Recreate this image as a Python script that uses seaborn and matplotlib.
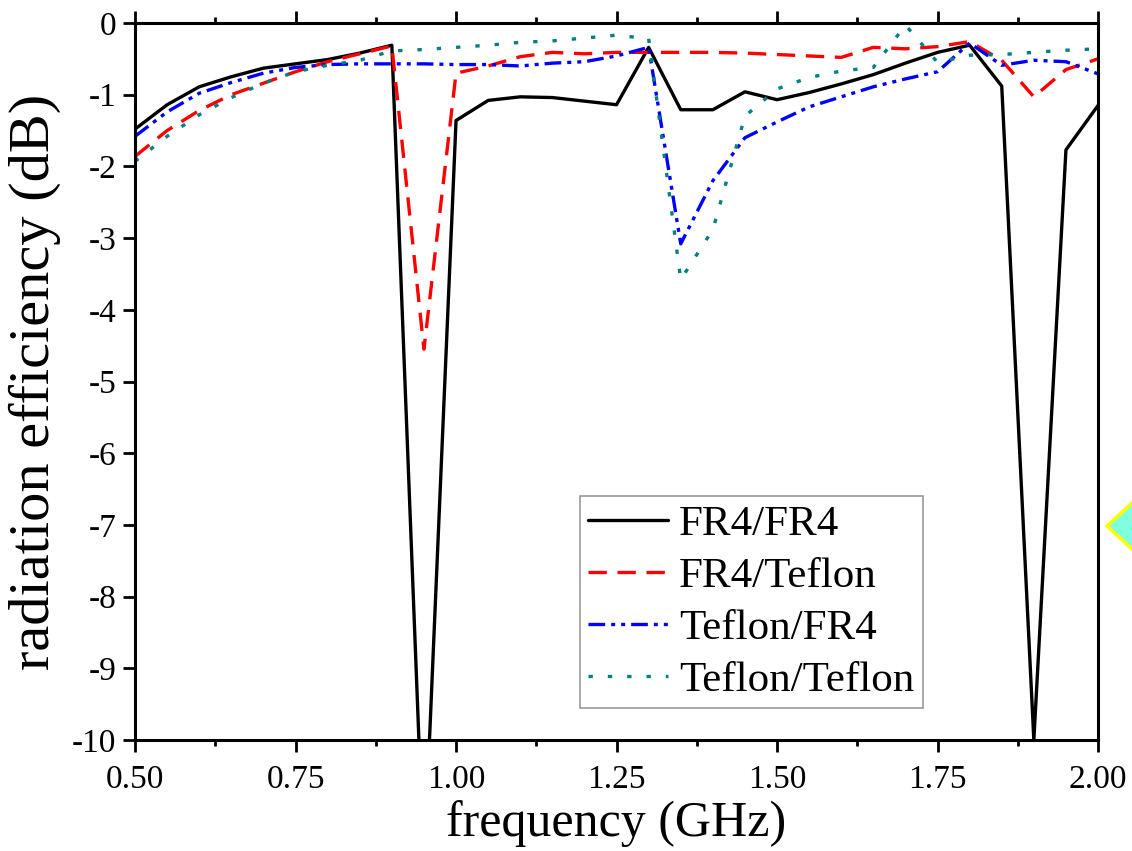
import matplotlib
matplotlib.use("Agg")
import matplotlib.pyplot as plt
from matplotlib.patches import Polygon
from matplotlib.ticker import MultipleLocator, FormatStrFormatter
import seaborn as sns
import pandas as pd

freq = [0.50, 0.55, 0.60, 0.65, 0.70, 0.75, 0.80, 0.85, 0.90, 0.95,
        1.00, 1.05, 1.10, 1.15, 1.20, 1.25, 1.30, 1.35, 1.40, 1.45,
        1.50, 1.55, 1.60, 1.65, 1.70, 1.75, 1.80, 1.85, 1.90, 1.95, 2.00]

fr4_fr4 = [-1.48, -1.14, -0.89, -0.75, -0.63, -0.57, -0.51, -0.42, -0.31, -11.8,
           -1.36, -1.08, -1.03, -1.04, -1.09, -1.14, -0.34, -1.21, -1.21, -0.96,
           -1.07, -0.97, -0.85, -0.72, -0.56, -0.41, -0.31, -0.88, -10.0, -1.77, -1.15]

fr4_teflon = [-1.86, -1.50, -1.22, -1.00, -0.84, -0.68, -0.54, -0.43, -0.32, -4.55,
              -0.70, -0.60, -0.47, -0.41, -0.43, -0.41, -0.41, -0.41, -0.41, -0.42,
              -0.44, -0.46, -0.48, -0.34, -0.36, -0.33, -0.26, -0.52, -1.03, -0.65, -0.50]

teflon_fr4 = [-1.58, -1.24, -0.98, -0.83, -0.70, -0.62, -0.58, -0.57, -0.57, -0.57,
              -0.58, -0.58, -0.60, -0.56, -0.54, -0.46, -0.34, -3.08, -2.20, -1.60,
              -1.38, -1.17, -1.03, -0.89, -0.78, -0.68, -0.28, -0.59, -0.52, -0.54, -0.71]

teflon_teflon = [-1.93, -1.58, -1.28, -1.04, -0.84, -0.68, -0.59, -0.52, -0.39, -0.37,
                 -0.34, -0.31, -0.27, -0.25, -0.21, -0.17, -0.22, -3.58, -2.88, -1.30,
                 -0.92, -0.76, -0.67, -0.62, -0.03, -0.55, -0.45, -0.44, -0.41, -0.38, -0.36]

labels = ["FR4/FR4", "FR4/Teflon", "Teflon/FR4", "Teflon/Teflon"]
series = [fr4_fr4, fr4_teflon, teflon_fr4, teflon_teflon]
colors = ["#000000", "#FF0000", "#0000FF", "#008080"]
dash_styles = [None, (5.5, 3.2), (5.0, 1.8, 1.2, 1.8, 1.2, 1.8), (1.3, 4.5)]

sns.set_theme(style="white")
plt.rcParams["font.family"] = ["Liberation Serif", "DejaVu Serif"]
plt.rcParams["axes.unicode_minus"] = False
plt.rcParams["text.color"] = "black"
plt.rcParams["axes.labelcolor"] = "black"
plt.rcParams["xtick.color"] = "black"
plt.rcParams["ytick.color"] = "black"

fig = plt.figure(figsize=(11.32, 8.51), dpi=100)
ax = fig.add_axes([0.1193, 0.1304, 0.8507, 0.8426])

for lab, vals, col, dsh in zip(labels, series, colors, dash_styles):
    df = pd.DataFrame({"freq": freq, "eff": vals})
    sns.lineplot(data=df, x="freq", y="eff", ax=ax, color=col, label=lab,
                 linewidth=2.4, sort=False)
    line = ax.lines[-1]
    if dsh is not None:
        line.set_dashes(dsh)
    line.set_dash_capstyle("butt")

ax.set_xlim(0.5, 2.0)
ax.set_ylim(-10, 0)
ax.xaxis.set_major_locator(MultipleLocator(0.25))
ax.xaxis.set_minor_locator(MultipleLocator(0.125))
ax.xaxis.set_major_formatter(FormatStrFormatter("%.2f"))
ax.yaxis.set_major_locator(MultipleLocator(1))
ax.yaxis.set_major_formatter(FormatStrFormatter("%d"))

for sp in ax.spines.values():
    sp.set_visible(True)
    sp.set_color("black")
    sp.set_linewidth(2.2)

ax.tick_params(axis="both", which="major", direction="out", length=8.5, width=2.0,
               labelsize=24, color="black", labelcolor="black")
ax.tick_params(axis="x", which="minor", direction="out", length=4.5, width=2.0,
               color="black", bottom=True, top=True)
ax.tick_params(axis="x", which="major", top=True, bottom=True, pad=9)
ax.tick_params(axis="y", which="major", left=True, right=False, pad=5)

ax.set_xlabel("frequency (GHz)", fontsize=36, labelpad=4)
ax.set_ylabel("radiation efficiency (dB)", fontsize=42, labelpad=8)
ax.grid(False)

leg = ax.legend(loc="lower right", bbox_to_anchor=(0.818, 0.044), fontsize=31,
                frameon=True, fancybox=False, edgecolor="#808080",
                handlelength=1.85, handletextpad=0.25, labelspacing=0.3,
                borderpad=0.2, borderaxespad=0.0)
leg.get_frame().set_linewidth(1.2)
for t in leg.get_texts():
    t.set_color("black")

# decorative diamond marker at right edge of the figure
diamond = Polygon([(1107 / 1132, 1 - 526 / 851), (1132 / 1132, 1 - 503 / 851),
                   (1157 / 1132, 1 - 526 / 851), (1132 / 1132, 1 - 549 / 851)],
                  closed=True, transform=fig.transFigure, facecolor="#80FFDF",
                  edgecolor="#FFFF00", linewidth=2.5, clip_on=False)
fig.patches.append(diamond)

fig.savefig("out.png", dpi=100)
